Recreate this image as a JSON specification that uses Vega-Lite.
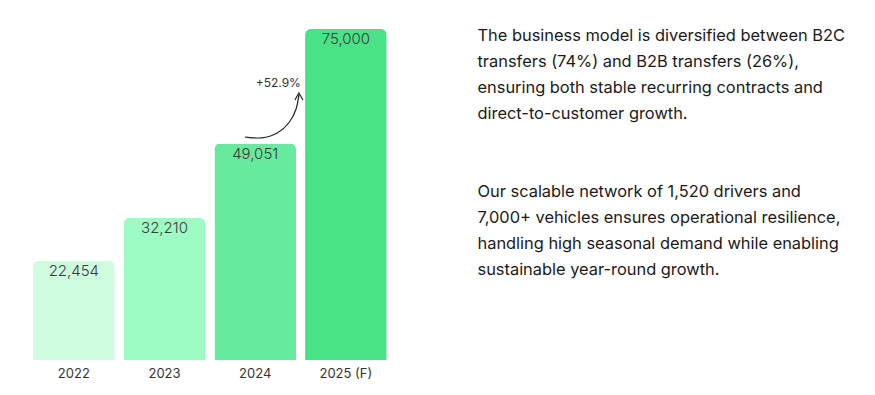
{
  "$schema": "https://vega.github.io/schema/vega-lite/v6.json",
  "background": "white",
  "padding": {"left": 28.5, "top": 28, "right": 0, "bottom": 0},
  "autosize": {"type": "pad"},
  "config": {"view": {"stroke": null}, "font": "Inter"},
  "spacing": 86,
  "hconcat": [
    {
      "width": 362.7,
      "height": 331,
      "layer": [
        {
          "data": {"values": [
            {"year": "2022", "value": 22454, "label": "22,454"},
            {"year": "2023", "value": 32210, "label": "32,210"},
            {"year": "2024", "value": 49051, "label": "49,051"},
            {"year": "2025 (F)", "value": 75000, "label": "75,000"}
          ]},
          "mark": {"type": "bar", "cornerRadiusTopLeft": 6, "cornerRadiusTopRight": 6},
          "encoding": {
            "x": {"field": "year", "type": "nominal", "sort": null,
              "scale": {"paddingInner": 0.1, "paddingOuter": 0.05},
              "axis": {"title": null, "domain": false, "ticks": false, "labelAngle": 0, "labelPadding": 7, "labelFontSize": 13, "labelColor": "#333333", "labelFont": "Inter"}},
            "y": {"field": "value", "type": "quantitative", "scale": {"domain": [0, 75000], "nice": false}, "axis": null},
            "color": {"field": "year", "type": "nominal", "legend": null,
              "scale": {"domain": ["2022", "2023", "2024", "2025 (F)"], "range": ["#cdfcde", "#9cfcc4", "#66ea9d", "#4ae286"]}}
          }
        },
        {
          "data": {"values": [
            {"year": "2022", "value": 22454, "label": "22,454"},
            {"year": "2023", "value": 32210, "label": "32,210"},
            {"year": "2024", "value": 49051, "label": "49,051"},
            {"year": "2025 (F)", "value": 75000, "label": "75,000"}
          ]},
          "mark": {"type": "text", "baseline": "top", "dy": 3, "fontSize": 15, "fontWeight": 300, "color": "#3a3a3a", "font": "Inter"},
          "encoding": {
            "x": {"field": "year", "type": "nominal", "sort": null, "scale": {"paddingInner": 0.1, "paddingOuter": 0.05}, "axis": null},
            "y": {"field": "value", "type": "quantitative"},
            "text": {"field": "label"}
          }
        },
        {
          "data": {"values": [
            {"px": 2.387, "v": 50529},
            {"px": 2.574, "v": 50076},
            {"px": 2.751, "v": 51208},
            {"px": 2.883, "v": 53701},
            {"px": 2.960, "v": 56873},
            {"px": 2.982, "v": 60045}
          ]},
          "mark": {"type": "line", "interpolate": "basis", "color": "#222222", "strokeWidth": 1.2},
          "encoding": {
            "x": {"field": "px", "type": "quantitative", "scale": {"domain": [0, 4], "nice": false, "zero": false}, "axis": null},
            "y": {"field": "v", "type": "quantitative"}
          }
        },
        {
          "data": {"values": [
            {"px": 2.938, "v": 58912, "i": 0},
            {"px": 2.982, "v": 60498, "i": 1},
            {"px": 3.026, "v": 58912, "i": 2}
          ]},
          "mark": {"type": "line", "color": "#222222", "strokeWidth": 1.2},
          "encoding": {
            "x": {"field": "px", "type": "quantitative", "scale": {"domain": [0, 4], "nice": false, "zero": false}, "axis": null},
            "y": {"field": "v", "type": "quantitative"},
            "order": {"field": "i"}
          }
        },
        {
          "data": {"values": [{"px": 3.004, "v": 62832, "t": "+52.9%"}]},
          "mark": {"type": "text", "align": "right", "baseline": "middle", "fontSize": 12, "color": "#333333", "font": "Inter"},
          "encoding": {
            "x": {"field": "px", "type": "quantitative", "scale": {"domain": [0, 4], "nice": false, "zero": false}, "axis": null},
            "y": {"field": "v", "type": "quantitative"},
            "text": {"field": "t"}
          }
        }
      ],
      "resolve": {"scale": {"x": "independent"}}
    },
    {
      "width": 380,
      "height": 331,
      "data": {"values": [
        {"line": 0, "text": "The business model is diversified between B2C"},
        {"line": 1, "text": "transfers (74%) and B2B transfers (26%),"},
        {"line": 2, "text": "ensuring both stable recurring contracts and"},
        {"line": 3, "text": "direct-to-customer growth."},
        {"line": 6, "text": "Our scalable network of 1,520 drivers and"},
        {"line": 7, "text": "7,000+ vehicles ensures operational resilience,"},
        {"line": 8, "text": "handling high seasonal demand while enabling"},
        {"line": 9, "text": "sustainable year-round growth."}
      ]},
      "mark": {"type": "text", "align": "left", "baseline": "middle", "fontSize": 16.4, "font": "Inter", "color": "#1a1a1a"},
      "encoding": {
        "x": {"datum": 0, "type": "quantitative", "scale": {"domain": [0, 1]}, "axis": null},
        "y": {"field": "line", "type": "quantitative", "scale": {"domain": [-0.27, 12.46], "reverse": true, "nice": false, "zero": false}, "axis": null},
        "text": {"field": "text"}
      }
    }
  ]
}
